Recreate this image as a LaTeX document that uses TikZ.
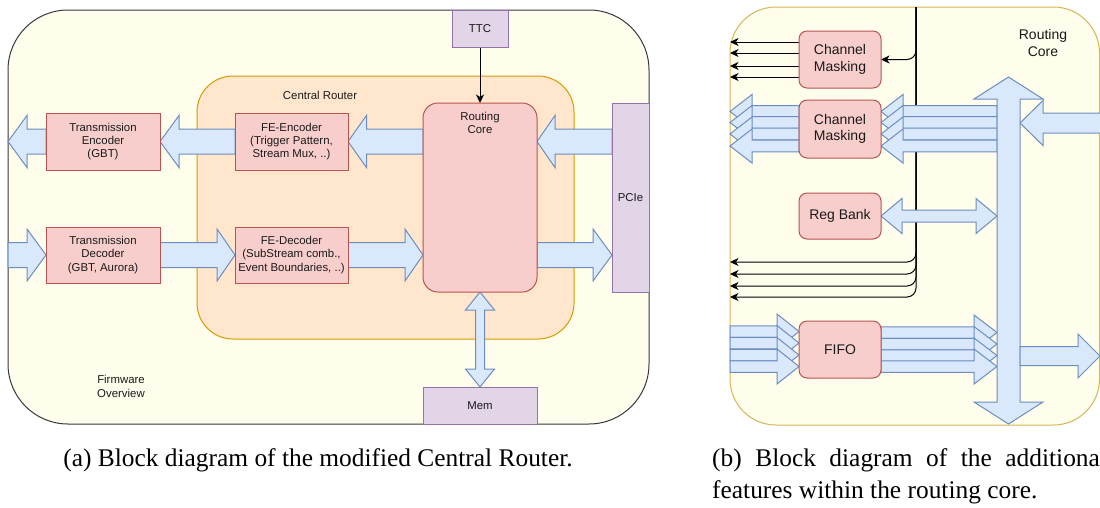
\documentclass[tikz,border=0pt]{standalone}
\usepackage{fontspec}
\setmainfont{Liberation Serif}
\setsansfont{Liberation Sans}
\usetikzlibrary{calc,arrows.meta}
\pgfdeclarelayer{back}
\pgfdeclarelayer{mid}
\pgfsetlayers{back,mid,main}

\definecolor{fwfill}{HTML}{FFFDEB}
\definecolor{fwdraw}{HTML}{36393D}
\definecolor{crfill}{HTML}{FFE6CC}
\definecolor{crdraw}{HTML}{D79B00}
\definecolor{rfill}{HTML}{F8CECC}
\definecolor{rdraw}{HTML}{B85450}
\definecolor{pfill}{HTML}{E1D5E7}
\definecolor{pdraw}{HTML}{9673A6}
\definecolor{bfill}{HTML}{DAE8FC}
\definecolor{bdraw}{HTML}{6C8EBF}
\definecolor{ydraw}{HTML}{D6B656}
\definecolor{txt}{HTML}{1A1A1A}

\tikzset{
  box/.style={rectangle, inner sep=0pt, outer sep=0pt, line width=1pt, align=center, text=txt,
    font=\sffamily\fontsize{11.4}{13.3}\selectfont},
  redbox/.style={box, fill=rfill, draw=rdraw},
  purbox/.style={box, fill=pfill, draw=pdraw},
  rbox/.style={redbox, rounded corners=8pt, font=\sffamily\fontsize{14}{16.5}\selectfont},
  lbl/.style={inner sep=0pt, align=center, text=txt, font=\sffamily\fontsize{11.4}{13.3}\selectfont},
  rlbl/.style={lbl, font=\sffamily\fontsize{14}{16.5}\selectfont},
  barrow/.style={fill=bfill, draw=bdraw, line width=1pt, line join=miter},
  sig/.style={draw=black, line width=1pt, -{Stealth[length=8.5pt,width=8pt,inset=2.5pt]}},
  capt/.style={inner sep=0pt, font=\rmfamily\fontsize{25.4}{32}\selectfont},
}

% #1 start, #2 tip, #3 shaft half width, #4 head half width, #5 head length
\newcommand\blkarrow[5]{%
  \draw[barrow] let \p1=#1, \p2=#2, \n1={ifthenelse(\x2>\x1,1,-1)*#5} in
    (\x1,{\y1+#3pt}) -- ({\x2-(\n1)},{\y1+#3pt}) -- ({\x2-(\n1)},{\y1+#4pt}) -- (\x2,\y1)
    -- ({\x2-(\n1)},{\y1-#4pt}) -- ({\x2-(\n1)},{\y1-#3pt}) -- (\x1,{\y1-#3pt}) -- cycle;}
% horizontal double arrow: #1 left tip, #2 right tip
\newcommand\hdblarrow[5]{%
  \draw[barrow] let \p1=#1, \p2=#2 in
    (\x1,\y1) -- ({\x1+#5pt},{\y1+#4pt}) -- ({\x1+#5pt},{\y1+#3pt}) -- ({\x2-#5pt},{\y1+#3pt})
    -- ({\x2-#5pt},{\y1+#4pt}) -- (\x2,\y1) -- ({\x2-#5pt},{\y1-#4pt}) -- ({\x2-#5pt},{\y1-#3pt})
    -- ({\x1+#5pt},{\y1-#3pt}) -- ({\x1+#5pt},{\y1-#4pt}) -- cycle;}
% vertical double arrow: #1 top tip, #2 bottom tip
\newcommand\vdblarrow[5]{%
  \draw[barrow] let \p1=#1, \p2=#2 in
    (\x1,\y1) -- ({\x1+#4pt},{\y1-#5pt}) -- ({\x1+#3pt},{\y1-#5pt}) -- ({\x1+#3pt},{\y2+#5pt})
    -- ({\x1+#4pt},{\y2+#5pt}) -- (\x1,\y2) -- ({\x1-#4pt},{\y2+#5pt}) -- ({\x1-#3pt},{\y2+#5pt})
    -- ({\x1-#3pt},{\y1-#5pt}) -- ({\x1-#4pt},{\y1-#5pt}) -- cycle;}

\begin{document}
\begin{tikzpicture}[x=1pt,y=-1pt]
\useasboundingbox (0,0) rectangle (1100,507);

% ---------- containers ----------
\begin{pgfonlayer}{back}
  \fill[white] (0,0) rectangle (1100,507);
  \node[box, fill=fwfill, draw=fwdraw, rounded corners=60pt, minimum width=641pt, minimum height=414pt] (fw) at (328.5,217) {};
  \node[box, fill=crfill, draw=crdraw, rounded corners=36pt, minimum width=377pt, minimum height=263pt] (cr) at (385.5,207.5) {};
  \node[box, fill=fwfill, draw=ydraw, rounded corners=46pt, minimum width=369.5pt, minimum height=418pt] (outB) at (914.75,216) {};
\end{pgfonlayer}

% ---------- left: blocks ----------
\node[lbl] (fwlbl) at (121,386.5) {Firmware\\Overview};
\node[lbl] (crlbl) at (320,95) {Central Router};
\node[purbox, minimum width=56pt, minimum height=37pt] (ttc) at (480,28.5) {TTC};
\node[redbox, rounded corners=15pt, minimum width=114pt, minimum height=189pt] (rc) at (480,197.5) {};
\node[lbl] (rclbl) at (480,123) {Routing\\Core};
\node[purbox, minimum width=37pt, minimum height=189pt] (pcie) at (630.5,197.5) {PCIe};
\node[purbox, minimum width=114pt, minimum height=37pt] (mem) at (480,405.5) {Mem};
\node[redbox, minimum width=114pt, minimum height=57pt] (te) at (103,141.5) {Transmission\\Encoder\\(GBT)};
\node[redbox, minimum width=113pt, minimum height=57pt] (fe) at (291.5,141.5) {FE-Encoder\\(Trigger Pattern,\\Stream Mux, ..)};
\node[redbox, minimum width=114pt, minimum height=56pt] (td) at (103,255) {Transmission\\Decoder\\(GBT, Aurora)};
\node[redbox, minimum width=113pt, minimum height=56pt] (fd) at (291.5,255) {FE-Decoder\\(SubStream comb.,\\Event Boundaries, ..)};

% ---------- right: blocks ----------
\node[rlbl] (rclbl2) at (1043,43) {Routing\\Core};
\node[rbox, minimum width=82pt, minimum height=57pt] (cm1) at (840,59.5) {Channel\\Masking};
\node[rbox, minimum width=82pt, minimum height=58pt] (cm2) at (840,129) {Channel\\Masking};
\node[rbox, minimum width=82pt, minimum height=46pt] (rb) at (840,216) {Reg Bank};
\node[rbox, minimum width=82pt, minimum height=57pt] (fifo) at (840,349.5) {FIFO};
\path node[rectangle, inner sep=0pt, outer sep=0pt, minimum width=23pt, minimum height=347pt] (bus) at (1008.5,250.5) {};

% ---------- connectors ----------
\begin{pgfonlayer}{mid}
  % left diagram
  \draw[sig] (ttc.south) -- (rc.north);
  \blkarrow{(te.west)}{(fw.west |- te.west)}{12.5}{26}{19}
  \blkarrow{(fe.west)}{(te.east)}{12.5}{26}{19}
  \blkarrow{(rc.west |- fe.west)}{(fe.east)}{12.5}{26}{18.5}
  \blkarrow{(pcie.west |- fe.west)}{(rc.east |- fe.west)}{12.5}{26}{18}
  \blkarrow{(fw.west |- td.west)}{(td.west)}{12.5}{26}{19}
  \blkarrow{(td.east)}{(fd.west)}{12.5}{26}{18}
  \blkarrow{(fd.east)}{(rc.west |- fd.east)}{12.5}{26}{18}
  \blkarrow{(rc.east |- fd.east)}{(pcie.west |- fd.east)}{12.5}{26}{19}
  \vdblarrow{(rc.south)}{(mem.north)}{4.5}{14.5}{18}

  % right diagram: control lines
  \coordinate (sigtop) at (916,7);
  \draw[sig, rounded corners=9pt] (sigtop) |- (cm1.east);
  \foreach \yy [count=\i] in {262,274,286,297} {
    \coordinate (o\i) at (730,\yy);
    \draw[sig, rounded corners=9pt] (sigtop) |- (o\i);
  }
  \foreach \yy [count=\i] in {42,53,66,77} {
    \coordinate (c\i) at (730,\yy);
    \draw[sig] (cm1.west |- c\i) -- (c\i);
  }

  % channel masking (data)
  \foreach \dy in {-17.5,-6.5,5,17} {
    \blkarrow{($(cm2.west)+(0,\dy)$)}{($(outB.west |- cm2.west)+(0,\dy)$)}{5.85}{17}{22}
  }
  \foreach \dy in {-17.5,-6.5,5,17} {
    \blkarrow{($(bus.west |- cm2.east)+(0,\dy)$)}{($(cm2.east)+(0,\dy)$)}{5.85}{17}{22}
  }
  % reg bank
  \hdblarrow{(rb.east)}{(bus.west |- rb.east)}{6}{17.5}{21}
  % fifo
  \foreach \dy in {-18,-6.5,5.5,17} {
    \blkarrow{($(outB.west |- fifo.west)+(0,\dy)$)}{($(fifo.west)+(0,\dy)$)}{5.75}{17.5}{22}
  }
  \foreach \dy in {-17,-5.5,6,17} {
    \blkarrow{($(fifo.east)+(0,\dy)$)}{($(bus.west |- fifo.east)+(0,\dy)$)}{5.75}{17.5}{23}
  }
  % bus
  \vdblarrow{(bus.north)}{(bus.south)}{11.5}{34.5}{22}
  \coordinate (inR) at (1102,123);
  \blkarrow{(inR)}{(bus.east |- inR)}{10}{22.5}{23}
  \coordinate (outR) at (1100,356);
  \blkarrow{(bus.east |- outR)}{(outR)}{9.5}{22}{22}
\end{pgfonlayer}

% ---------- captions ----------
\node[capt, anchor=base] (capa) at (318,466) {(a) Block diagram of the modified Central Router.};
\node[capt, anchor=base west] (capb1) at (712,466) {(b)\hspace{13.5pt}Block\hspace{13.5pt}diagram\hspace{13.5pt}of\hspace{13.5pt}the\hspace{13.5pt}additiona};
\node[capt, anchor=base west] (capb2) at (712,498) {features within the routing core.};
\end{tikzpicture}
\end{document}
